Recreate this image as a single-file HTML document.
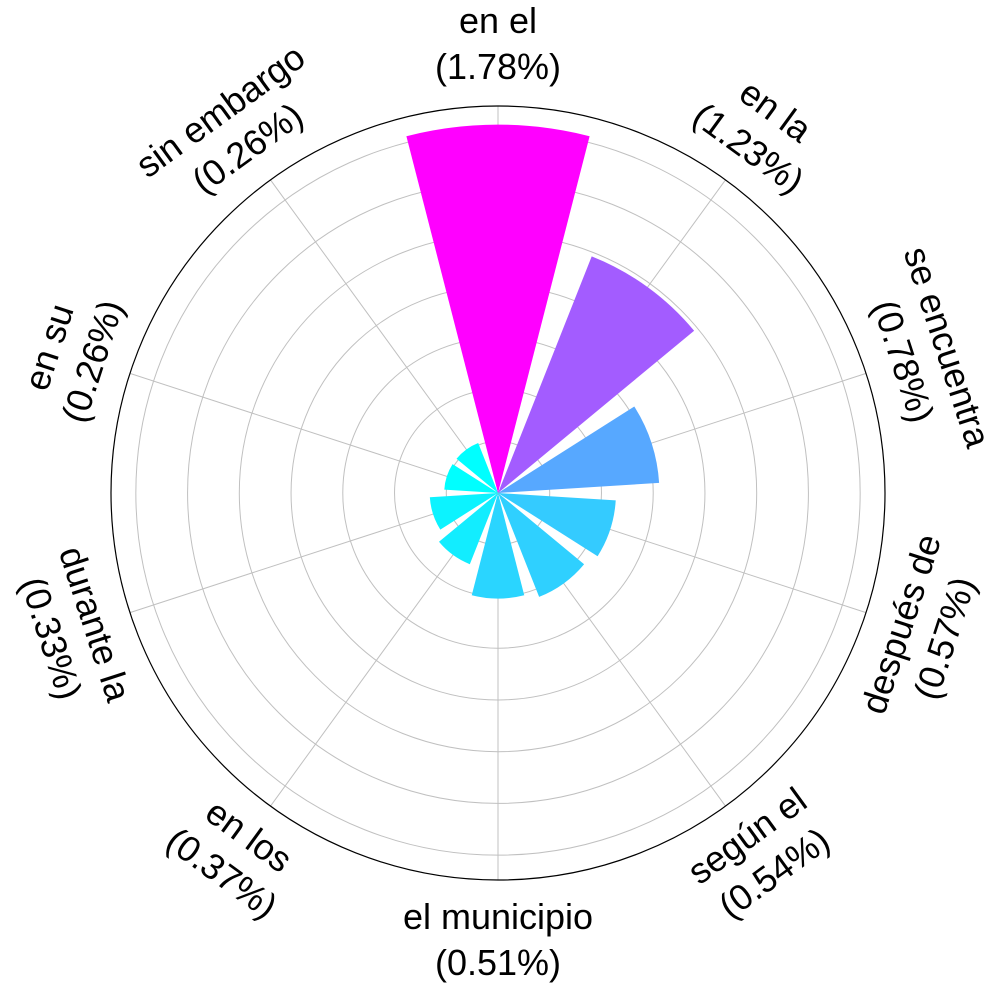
<!DOCTYPE html>
<html><head><meta charset="utf-8"><style>
html,body{margin:0;padding:0;background:#fff;}
svg{display:block;font-family:"Liberation Sans",sans-serif;}
</style></head><body>
<svg id="chart" width="1008" height="990" viewBox="0 0 1008 990"></svg>
<script>
const categories=["en el","en la","se encuentra","después de","según el","el municipio","en los","durante la","en su","sin embargo"];
const values=[1.78,1.23,0.78,0.57,0.54,0.51,0.37,0.33,0.26,0.26];
const gridTicks=[0.25,0.5,0.75,1.0,1.25,1.5,1.75];
const cx=498,cy=493,R=387,rmax=1.87;
const svg=document.getElementById('chart');
const NS='http://www.w3.org/2000/svg';
function rScale(v){return v/rmax*R;}
function aScale(i){return i*2*Math.PI/categories.length;}
function pt(a,r){return [cx+r*Math.sin(a),cy-r*Math.cos(a)];}
function mk(t,attrs){const e=document.createElementNS(NS,t);for(const k in attrs)e.setAttribute(k,attrs[k]);svg.appendChild(e);return e;}
const vmin=Math.min(...values),vmax=Math.max(...values);
function color(v){const t=(v-vmin)/(vmax-vmin);return `rgb(${Math.round(255*t)},${Math.round(255*(1-t))},255)`;}
gridTicks.forEach((g,i)=>{
  const c=mk('circle',{cx:cx,cy:cy,r:rScale(g),fill:'none',stroke:'#c0c0c0','stroke-width':1});
  
  
});
categories.forEach((c,i)=>{
  const p=pt(aScale(i),R);
  const l=mk('line',{x1:cx,y1:cy,x2:p[0],y2:p[1],stroke:'#c0c0c0','stroke-width':1});
  
  
});
const half=Math.PI*2/categories.length*0.4;
values.forEach((v,i)=>{
  const a=aScale(i),r=rScale(v);
  const p1=pt(a-half,r),p2=pt(a+half,r);
  const path=mk('path',{d:`M${cx},${cy} L${p1[0]},${p1[1]} A${r},${r} 0 0 1 ${p2[0]},${p2[1]} Z`,fill:color(v)});
  
  
});
const outer=mk('circle',{cx:cx,cy:cy,r:R,fill:'none',stroke:'#000','stroke-width':1.2});


categories.forEach((c,i)=>{
  const deg=i*360/categories.length;
  const p=pt(aScale(i),448);
  let rot=deg; if(deg>90&&deg<270) rot=deg-180;
  const t=mk('text',{transform:`translate(${p[0]},${p[1]}) rotate(${rot})`,'text-anchor':'middle','font-size':36,fill:'#000'});
  
  
  const s1=document.createElementNS(NS,'tspan');s1.setAttribute('x',0);s1.setAttribute('y',-12);s1.textContent=c;t.appendChild(s1);
  const s2=document.createElementNS(NS,'tspan');s2.setAttribute('x',0);s2.setAttribute('y',34);s2.textContent='('+values[i].toFixed(2)+'%)';t.appendChild(s2);
});
</script>
</body></html>
